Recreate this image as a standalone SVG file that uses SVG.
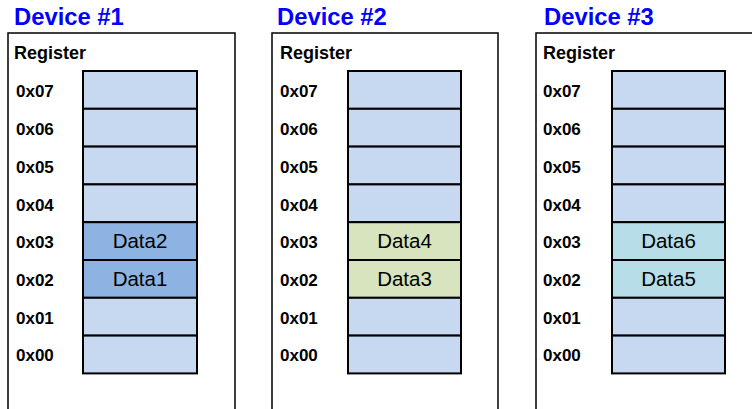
<svg xmlns="http://www.w3.org/2000/svg" width="752" height="409" viewBox="0 0 752 409">
<style>
.title{font-family:"Liberation Sans",Arial,sans-serif;font-weight:bold;font-size:23.8px;fill:#0000ff}
.reg{font-family:"Liberation Sans",Arial,sans-serif;font-weight:bold;font-size:17px;fill:#000}
.hdr{font-size:18px}
.data{font-family:"Liberation Sans",Arial,sans-serif;font-size:20.5px;fill:#000;text-anchor:middle}
.box{fill:#fff;stroke:#000;stroke-width:1.5}
.cell{fill:#c6d9f1;stroke:#000;stroke-width:2}
.blue{fill:#8db3e2}
.green{fill:#d7e4bd}
.cyan{fill:#b7dee8}
</style>
<g id="device1">
<text class="title" x="14" y="25">Device #1</text>
<rect class="box" x="8" y="33" width="227" height="400"/>
<text class="reg hdr" x="14" y="59">Register</text>
<g>
<rect class="cell" x="83" y="71" width="114" height="37.8"/>
<rect class="cell" x="83" y="108.8" width="114" height="37.8"/>
<rect class="cell" x="83" y="146.6" width="114" height="37.8"/>
<rect class="cell" x="83" y="184.4" width="114" height="37.8"/>
<rect class="cell blue" x="83" y="222.2" width="114" height="37.8"/>
<rect class="cell blue" x="83" y="260" width="114" height="37.8"/>
<rect class="cell" x="83" y="297.8" width="114" height="37.8"/>
<rect class="cell" x="83" y="335.6" width="114" height="37.8"/>
</g>
<text class="reg" x="16" y="97">0x07</text>
<text class="reg" x="16" y="135">0x06</text>
<text class="reg" x="16" y="172.5">0x05</text>
<text class="reg" x="16" y="210.5">0x04</text>
<text class="reg" x="16" y="248">0x03</text>
<text class="reg" x="16" y="286">0x02</text>
<text class="reg" x="16" y="323.5">0x01</text>
<text class="reg" x="16" y="361">0x00</text>
<text class="data" x="140" y="248">Data2</text>
<text class="data" x="140" y="286">Data1</text>
</g>
<g id="device2">
<text class="title" x="277" y="25">Device #2</text>
<rect class="box" x="272" y="33" width="226" height="400"/>
<text class="reg hdr" x="280" y="59">Register</text>
<g>
<rect class="cell" x="348" y="71" width="113" height="37.8"/>
<rect class="cell" x="348" y="108.8" width="113" height="37.8"/>
<rect class="cell" x="348" y="146.6" width="113" height="37.8"/>
<rect class="cell" x="348" y="184.4" width="113" height="37.8"/>
<rect class="cell green" x="348" y="222.2" width="113" height="37.8"/>
<rect class="cell green" x="348" y="260" width="113" height="37.8"/>
<rect class="cell" x="348" y="297.8" width="113" height="37.8"/>
<rect class="cell" x="348" y="335.6" width="113" height="37.8"/>
</g>
<text class="reg" x="280" y="97">0x07</text>
<text class="reg" x="280" y="135">0x06</text>
<text class="reg" x="280" y="172.5">0x05</text>
<text class="reg" x="280" y="210.5">0x04</text>
<text class="reg" x="280" y="248">0x03</text>
<text class="reg" x="280" y="286">0x02</text>
<text class="reg" x="280" y="323.5">0x01</text>
<text class="reg" x="280" y="361">0x00</text>
<text class="data" x="404.5" y="248">Data4</text>
<text class="data" x="404.5" y="286">Data3</text>
</g>
<g id="device3">
<text class="title" x="544" y="25">Device #3</text>
<rect class="box" x="536" y="33" width="226" height="400"/>
<text class="reg hdr" x="543" y="59">Register</text>
<g>
<rect class="cell" x="612" y="71" width="113" height="37.8"/>
<rect class="cell" x="612" y="108.8" width="113" height="37.8"/>
<rect class="cell" x="612" y="146.6" width="113" height="37.8"/>
<rect class="cell" x="612" y="184.4" width="113" height="37.8"/>
<rect class="cell cyan" x="612" y="222.2" width="113" height="37.8"/>
<rect class="cell cyan" x="612" y="260" width="113" height="37.8"/>
<rect class="cell" x="612" y="297.8" width="113" height="37.8"/>
<rect class="cell" x="612" y="335.6" width="113" height="37.8"/>
</g>
<text class="reg" x="543" y="97">0x07</text>
<text class="reg" x="543" y="135">0x06</text>
<text class="reg" x="543" y="172.5">0x05</text>
<text class="reg" x="543" y="210.5">0x04</text>
<text class="reg" x="543" y="248">0x03</text>
<text class="reg" x="543" y="286">0x02</text>
<text class="reg" x="543" y="323.5">0x01</text>
<text class="reg" x="543" y="361">0x00</text>
<text class="data" x="668.5" y="248">Data6</text>
<text class="data" x="668.5" y="286">Data5</text>
</g>
<g id="connectors"/>
</svg>
